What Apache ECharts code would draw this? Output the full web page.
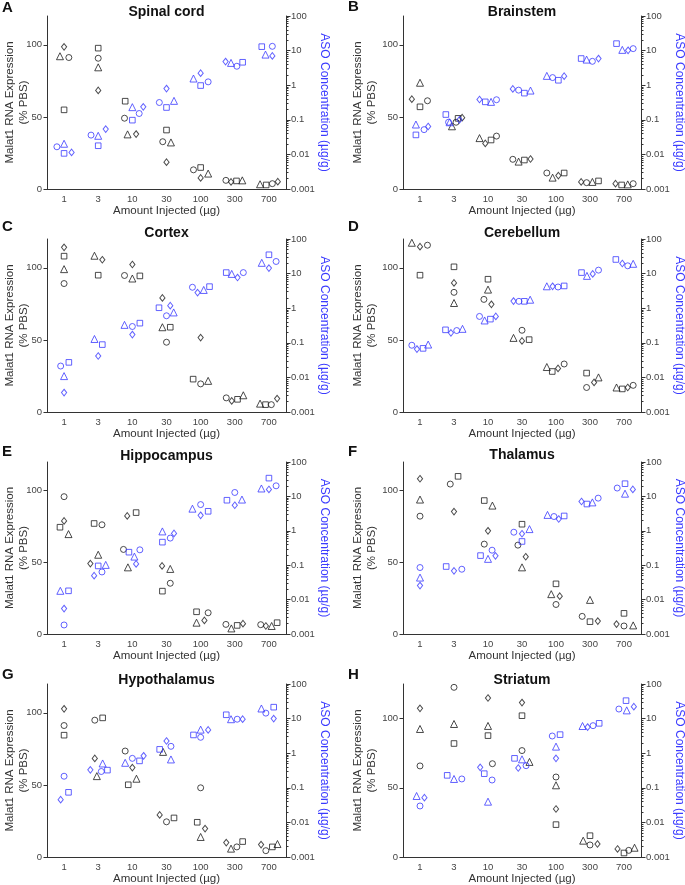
<!DOCTYPE html>
<html><head><meta charset="utf-8">
<script src="https://cdn.jsdelivr.net/npm/echarts@6/dist/echarts.min.js"></script>
<style>html,body{margin:0;padding:0;background:#fff}#c{width:685px;height:885px}</style>
</head><body><div id="c"></div>
<script>
// ---------- categories / labels ----------
const doses = ['1', '3', '10', '30', '100', '300', '700'];
const panelTitles = ['Spinal cord', 'Brainstem', 'Cortex', 'Cerebellum', 'Hippocampus', 'Thalamus', 'Hypothalamus', 'Striatum'];
const panelLetters = ['A', 'B', 'C', 'D', 'E', 'F', 'G', 'H'];
const exprMax = [120, 120, 120, 120, 120, 120, 120, 125];
const exprTicks = [0, 50, 100];
const asoTickLabels = ['0.001', '0.01', '0.1', '1', '10', '100'];

// ---------- A: Spinal cord ----------
// Malat1 expression (% PBS): O = circle, S = square, T = triangle, D = diamond
const scExpO = [91.2, 90.7, 49.1, 32.8, 13.3, 6.0, 3.7];
const scExpS = [54.9, 97.7, 60.9, 40.9, 14.9, 5.6, 2.8];
const scExpT = [92.1, 84.4, 37.9, 32.3, 10.7, 6.0, 3.3];
const scExpD = [98.6, 68.4, 38.1, 18.6, 7.7, 4.9, 5.1];
const scAsoO = [0.0166, 0.0361, 0.152, 0.316, 1.25, 3.53, 13.3];
const scAsoS = [0.0107, 0.0178, 0.0977, 0.227, 0.977, 4.6, 13.0];
const scAsoT = [0.0203, 0.0345, 0.232, 0.353, 1.56, 4.41, 7.67];
const scAsoD = [0.0114, 0.0538, 0.237, 0.80, 2.22, 4.82, 7.0];
// jitter (fraction of a category step)
const scExpOj = [0.14, 0, -0.23, -0.11, -0.21, -0.26, 0.1];
const scExpSj = [0, 0, -0.21, 0, 0, 0.05, -0.08];
const scExpTj = [-0.12, 0, -0.14, 0.13, 0.22, 0.22, -0.26];
const scExpDj = [0, 0, 0.11, 0, 0, -0.11, 0.26];
const scAsoOj = [-0.21, -0.21, 0.2, -0.21, 0.22, 0.06, 0.1];
const scAsoSj = [0, 0, 0, 0, 0, 0.23, -0.21];
const scAsoTj = [0, 0, 0, 0.22, -0.21, -0.11, -0.1];
const scAsoDj = [0.22, 0.22, 0.32, 0, 0, -0.27, 0.1];

// ---------- B: Brainstem ----------
const bsExpO = [61.2, 46.3, 36.7, 20.6, 11.1, 4.4, 3.7];
const bsExpS = [57, 49, 34, 20.1, 11.1, 5.6, 2.8];
const bsExpT = [73.7, 43.5, 35.3, 19, 7.9, 4.9, 3.2];
const bsExpD = [62.3, 49.5, 31.6, 20.8, 9.3, 4.9, 3.7];
const bsAsoO = [0.052, 0.085, 0.38, 0.72, 1.66, 4.9, 11.4];
const bsAsoS = [0.0366, 0.142, 0.33, 0.59, 1.39, 5.9, 15.9];
const bsAsoT = [0.073, 0.085, 0.33, 0.70, 1.86, 5.5, 10.5];
const bsAsoD = [0.064, 0.1, 0.386, 0.78, 1.82, 5.9, 10.2];
const bsExpOj = [0.22, 0.06, 0.25, -0.27, -0.27, -0.1, 0.27];
const bsExpSj = [0, 0.12, 0.09, 0.07, 0.24, 0.25, -0.07];
const bsExpTj = [0, -0.06, -0.25, -0.1, -0.1, 0.07, 0.11];
const bsExpDj = [-0.24, 0.24, -0.08, 0.25, 0.07, -0.26, -0.25];
const bsAsoOj = [0.12, -0.16, 0.25, -0.1, -0.1, 0.07, 0.27];
const bsAsoSj = [-0.12, -0.24, -0.08, 0.07, 0.07, -0.26, -0.22];
const bsAsoTj = [-0.12, -0.13, 0.09, 0.25, -0.27, -0.1, -0.05];
const bsAsoDj = [0.24, 0.16, -0.25, -0.27, 0.24, 0.25, 0.12];

// ---------- C: Cortex ----------
const cxExpO = [89.1, null, 94.7, 48.4, 19.5, 9.8, 5.1];
const cxExpS = [108.1, 94.9, 94.4, 58.8, 22.8, 8.8, 5.1];
const cxExpT = [99.1, 108.4, 92.6, 58.8, 21.6, 11.6, 5.8];
const cxExpD = [114.2, 105.6, 102.3, 79.1, 51.6, 7.7, 9.3];
const cxAsoO = [0.0213, null, 0.296, 0.604, 4.03, 10.7, 22.4];
const cxAsoS = [0.0272, 0.0887, 0.37, 1.03, 4.2, 10.7, 35];
const cxAsoT = [0.0109, 0.129, 0.33, 0.755, 3.37, 9.8, 20.5];
const cxAsoD = [0.00365, 0.0415, 0.173, 1.18, 2.82, 7.7, 14.4];
const cxExpOj = [0, 0, -0.23, 0, 0, -0.25, 0.07];
const cxExpSj = [0, 0, 0.22, 0.11, -0.22, 0.08, -0.1];
const cxExpTj = [0, -0.11, 0, -0.12, 0.22, 0.25, -0.26];
const cxExpDj = [0, 0.12, 0, -0.12, 0, -0.09, 0.24];
const cxAsoOj = [-0.1, 0, 0, 0, -0.24, 0.25, 0.21];
const cxAsoSj = [0.14, 0.12, 0.22, -0.22, 0.26, -0.25, 0];
const cxAsoTj = [0, -0.11, -0.23, 0.21, 0.09, -0.09, -0.21];
const cxAsoDj = [0, 0, 0, 0.11, -0.09, 0.08, 0];

// ---------- D: Cerebellum ----------
const cbExpO = [115.7, 83, 78.1, 56.7, 33.3, 17, 18.5];
const cbExpS = [94.9, 100.7, 92.1, 50.2, 28.1, 27, 16];
const cbExpT = [117.4, 75.6, 84.9, 51.4, 31.2, 24, 17];
const cbExpD = [114.7, 89.5, 74.7, 49.3, 30.2, 20.5, 17];
const cbAsoO = [0.085, 0.226, 0.578, 1.58, 4.1, 12.6, 16.8];
const cbAsoS = [0.069, 0.237, 0.483, 1.58, 4.4, 10.7, 25.6];
const cbAsoT = [0.089, 0.253, 0.442, 1.76, 4.3, 8.6, 19.2];
const cbAsoD = [0.066, 0.194, 0.578, 1.61, 4.3, 9.8, 19.6];
const cbExpOj = [0.22, 0, -0.12, 0, 0.24, -0.1, 0.27];
const cbExpSj = [0, 0, 0, 0.21, -0.11, -0.1, -0.05];
const cbExpTj = [-0.24, 0, 0, -0.25, -0.27, 0.25, -0.22];
const cbExpDj = [0, 0, 0.1, 0, 0.06, 0.12, 0.11];
const cbAsoOj = [-0.24, 0.08, -0.25, -0.09, 0.06, 0.25, 0.11];
const cbAsoSj = [0.09, -0.25, 0.07, 0.07, 0.24, -0.25, -0.24];
const cbAsoTj = [0.24, 0.25, -0.1, 0.24, -0.27, -0.09, 0.27];
const cbAsoDj = [-0.09, -0.09, 0.23, -0.25, -0.1, 0.08, -0.05];

// ---------- E: Hippocampus ----------
const hcExpO = [95.8, 76.2, 59, 35.4, 14.8, 6.7, 6.5];
const hcExpS = [74.5, 77.1, 84.7, 29.9, 15.5, 6, 7.9];
const hcExpT = [69.7, 55.3, 46.5, 45.4, 7.9, 3.9, 5.6];
const hcExpD = [78.9, 49.1, 82.4, 47.5, 9.5, 7.2, 5.6];
const hcAsoO = [0.00183, 0.0636, 0.28, 0.614, 5.78, 13, 20.3];
const hcAsoS = [0.018, 0.0953, 0.239, 0.468, 3.69, 7.74, 34];
const hcAsoT = [0.018, 0.102, 0.178, 0.96, 4.4, 8.1, 17];
const hcAsoD = [0.0055, 0.0497, 0.109, 0.84, 2.82, 5.53, 15.9];
const hcExpOj = [0, 0.11, -0.26, 0.11, 0.22, -0.26, -0.24];
const hcExpSj = [-0.12, -0.12, 0.11, -0.12, -0.12, 0.07, 0.24];
const hcExpTj = [0.13, 0, -0.13, 0.11, -0.12, -0.1, 0.08];
const hcExpDj = [0, -0.23, -0.15, -0.13, 0.11, 0.24, -0.09];
const hcAsoOj = [0, 0.11, 0.22, 0.11, 0, 0, 0.21];
const hcAsoSj = [0.13, 0, -0.1, -0.12, 0.22, -0.23, 0];
const hcAsoTj = [-0.11, 0.22, 0.06, -0.12, -0.24, 0.21, -0.22];
const hcAsoDj = [0, -0.12, 0.11, 0.22, 0, 0, 0];

// ---------- F: Thalamus ----------
const thExpO = [82.2, 104.6, 62.7, 62, 20.6, 12.3, 5.6];
const thExpS = [null, 110, 93.1, 76.6, 35, 8.6, 14.4];
const thExpT = [93.8, null, 89.6, 46.5, 27.8, 23.8, 6];
const thExpD = [108.3, 85.4, 72, 53.9, 26.4, 9, 6.9];
const thAsoO = [0.0855, 0.0764, 0.273, 0.91, 2.6, 8.9, 17.5];
const thAsoS = [null, 0.0915, 0.19, 0.49, 2.7, 6.0, 23.4];
const thAsoT = [0.0437, null, 0.153, 1.12, 2.9, 6.7, 12];
const thAsoD = [0.0256, 0.0684, 0.187, 0.82, 2.2, 7.1, 16];
const thExpOj = [0, -0.11, -0.11, -0.12, 0, -0.23, 0];
const thExpSj = [0, 0.12, -0.11, 0, 0, 0, 0];
const thExpTj = [0, 0, 0.13, 0, -0.14, 0, 0.27];
const thExpDj = [0, 0, 0, 0.11, 0.11, 0.23, -0.22];
const thAsoOj = [0, 0.23, 0.12, -0.24, -0.06, 0.24, -0.2];
const thAsoSj = [0, -0.23, -0.22, 0, 0.24, -0.09, 0.03];
const thAsoTj = [0, 0, 0, 0.22, -0.25, 0.07, 0.03];
const thAsoDj = [0, 0, 0.22, 0, 0.08, -0.25, 0.26];

// ---------- G: Hypothalamus ----------
const hyExpO = [91.2, 94.9, 73.5, 24.4, 48, 7, 4.4];
const hyExpS = [84.5, 96.5, 50.1, 27.1, 24.1, 10.7, 7];
const hyExpT = [null, 56.1, 54.3, 72.9, 13.9, 5.8, 9];
const hyExpD = [102.8, 68.4, 62, 29.2, 19.7, 10, 8.6];
const hyAsoO = [0.216, 0.296, 0.71, 1.58, 2.88, 9.6, 14.4];
const hyAsoS = [0.074, 0.324, 0.6, 1.29, 3.37, 12.9, 21.4];
const hyAsoT = [null, 0.505, 0.528, 0.66, 4.8, 9.6, 19.6];
const hyAsoD = [0.0454, 0.33, 0.84, 2.25, 4.7, 9.6, 10];
const hyExpOj = [0, -0.1, -0.21, 0, 0, 0.06, -0.09];
const hyExpSj = [0, 0.13, -0.12, 0.22, -0.1, 0.23, 0.1];
const hyExpTj = [0, -0.04, 0.12, -0.1, 0, -0.11, 0.25];
const hyExpDj = [0, -0.1, 0, -0.2, 0.13, -0.25, -0.23];
const hyAsoOj = [0, 0.09, 0, 0.13, 0, 0.07, -0.09];
const hyAsoSj = [0.13, 0.27, 0.21, -0.2, -0.21, -0.25, 0.14];
const hyAsoTj = [0, 0.13, -0.21, 0.13, 0, -0.11, -0.22];
const hyAsoDj = [-0.1, -0.23, 0.33, 0, 0.22, 0.23, 0.14];

// ---------- H: Striatum ----------
const stExpO = [65.8, 122.6, 67.4, 76.9, 57.8, 8.7, 4.8];
const stExpS = [null, 82, 87.7, 102.1, 23.4, 15.4, 2.9];
const stExpT = [92.5, 96.1, 94.7, 68.7, 51.8, 11.8, 6.7];
const stExpD = [107.4, null, 114.9, 111.6, 34.7, 9.4, 5.8];
const stAsoO = [0.0298, 0.18, 0.168, 0.436, 3.14, 6.25, 18.9];
const stAsoS = [null, 0.229, 0.256, 0.71, 3.44, 7.3, 33];
const stAsoT = [0.058, 0.18, 0.0397, 0.665, 1.55, 6.1, 17.3];
const stAsoD = [0.052, null, 0.39, 0.373, 0.71, 5.7, 22.1];
const stExpOj = [0, 0, 0.13, 0, 0, 0, 0.14];
const stExpSj = [0, 0, 0, 0, 0, 0, 0];
const stExpTj = [0, 0, 0, 0.22, 0, -0.2, 0.31];
const stExpDj = [0, 0, 0, 0, 0, 0.22, -0.19];
const stAsoOj = [0, 0.23, 0.12, 0.12, -0.11, 0.09, -0.15];
const stAsoSj = [0, -0.2, -0.11, -0.22, 0.12, 0.27, 0.06];
const stAsoTj = [-0.1, 0, 0, 0, 0, -0.22, 0.08];
const stAsoDj = [0.13, 0, -0.23, -0.11, 0, -0.07, 0.29];

// ---------- assembly ----------
const panels = [
  [[scExpO, scExpS, scExpT, scExpD], [scExpOj, scExpSj, scExpTj, scExpDj], [scAsoO, scAsoS, scAsoT, scAsoD], [scAsoOj, scAsoSj, scAsoTj, scAsoDj]],
  [[bsExpO, bsExpS, bsExpT, bsExpD], [bsExpOj, bsExpSj, bsExpTj, bsExpDj], [bsAsoO, bsAsoS, bsAsoT, bsAsoD], [bsAsoOj, bsAsoSj, bsAsoTj, bsAsoDj]],
  [[cxExpO, cxExpS, cxExpT, cxExpD], [cxExpOj, cxExpSj, cxExpTj, cxExpDj], [cxAsoO, cxAsoS, cxAsoT, cxAsoD], [cxAsoOj, cxAsoSj, cxAsoTj, cxAsoDj]],
  [[cbExpO, cbExpS, cbExpT, cbExpD], [cbExpOj, cbExpSj, cbExpTj, cbExpDj], [cbAsoO, cbAsoS, cbAsoT, cbAsoD], [cbAsoOj, cbAsoSj, cbAsoTj, cbAsoDj]],
  [[hcExpO, hcExpS, hcExpT, hcExpD], [hcExpOj, hcExpSj, hcExpTj, hcExpDj], [hcAsoO, hcAsoS, hcAsoT, hcAsoD], [hcAsoOj, hcAsoSj, hcAsoTj, hcAsoDj]],
  [[thExpO, thExpS, thExpT, thExpD], [thExpOj, thExpSj, thExpTj, thExpDj], [thAsoO, thAsoS, thAsoT, thAsoD], [thAsoOj, thAsoSj, thAsoTj, thAsoDj]],
  [[hyExpO, hyExpS, hyExpT, hyExpD], [hyExpOj, hyExpSj, hyExpTj, hyExpDj], [hyAsoO, hyAsoS, hyAsoT, hyAsoD], [hyAsoOj, hyAsoSj, hyAsoTj, hyAsoDj]],
  [[stExpO, stExpS, stExpT, stExpD], [stExpOj, stExpSj, stExpTj, stExpDj], [stAsoO, stAsoS, stAsoT, stAsoD], [stAsoOj, stAsoSj, stAsoTj, stAsoDj]]
];

const FONT = '"Liberation Sans", Arial, Helvetica, sans-serif';
const BLACK = '#1e1e1e';
const BLUE = '#3b3bff';
const AXIS = '#333333';
const LABEL = '#444444';
const shapes = ['circle', 'rect', 'triangle', 'diamond'];
const shapeSizes = [6, 5.6, 7, [5.2, 6.6]];
// grid boxes [left, top, width, height]
const boxes = [
  [47, 16, 239, 173], [403, 16, 238, 173],
  [47, 239, 239, 173], [403, 239, 238, 173],
  [47, 462, 239, 172], [403, 462, 238, 172],
  [47, 684, 239, 173], [403, 684, 238, 173]
];
const letterY = [8, 7, 227, 227, 452, 452, 675, 675];
const titleY = [11.7, 11.7, 233, 233.3, 455.7, 455.3, 680, 680];

const minorExps = [];
for (let d = -3; d < 2; d++) {
  for (let k = 2; k <= 9; k++) minorExps.push(d + Math.log10(k));
}

const grid = [], xAxis = [], yAxis = [], series = [], graphic = [];
boxes.forEach((b, p) => {
  const rightCol = p % 2 === 1;
  grid.push({ left: b[0], top: b[1], width: b[2], height: b[3], containLabel: false, outerBoundsMode: 'none' });
  xAxis.push({
    gridIndex: p, type: 'category', data: doses, boundaryGap: true, position: 'bottom',
    axisLine: { onZero: false, lineStyle: { color: AXIS, width: 1 } },
    axisTick: { alignWithLabel: true, length: 3.5, lineStyle: { color: AXIS } },
    axisLabel: { color: LABEL, fontSize: 9.5, margin: 5, fontFamily: FONT },
    splitLine: { show: false },
    name: 'Amount Injected (µg)', nameLocation: 'middle', nameGap: 14,
    nameTextStyle: { fontSize: 11.5, color: '#333', fontFamily: FONT }
  });
  xAxis.push({ gridIndex: p, type: 'value', min: -0.5, max: 6.5, show: false });
  yAxis.push({
    gridIndex: p, type: 'value', min: 0, max: exprMax[p], interval: 50, position: 'left',
    axisLine: { show: true, onZero: false, lineStyle: { color: AXIS, width: 1 } },
    axisTick: { show: true, length: 3.5, lineStyle: { color: AXIS }, customValues: exprTicks },
    axisLabel: { color: LABEL, fontSize: 9.5, margin: 5, fontFamily: FONT, customValues: exprTicks },
    splitLine: { show: false },
    name: 'Malat1 RNA Expression\n(% PBS)', nameLocation: 'middle', nameRotate: 90,
    nameMoveOverlap: false,
    nameGap: rightCol ? 24.5 : 16.5,
    nameTextStyle: { fontSize: 11.5, color: '#333', lineHeight: 13.5, fontFamily: FONT, align: 'center' }
  });
  yAxis.push({
    gridIndex: p, type: 'log', logBase: 10, min: 0.001, max: 100, position: 'right',
    axisLine: { show: true, onZero: false, lineStyle: { color: AXIS, width: 1 } },
    axisTick: { show: true, length: 4.5, lineStyle: { color: AXIS } },
    axisLabel: {
      color: LABEL, fontSize: 9.5, margin: 5, fontFamily: FONT,
      formatter: v => asoTickLabels[Math.round(Math.log10(v)) + 3]
    },
    splitLine: { show: false },
    name: 'ASO Concentration (µg/g)', nameLocation: 'middle', nameRotate: -90, nameGap: 30,
    nameTextStyle: { fontSize: 12, color: BLUE, fontFamily: FONT }
  });
  yAxis.push({
    gridIndex: p, type: 'value', min: -3, max: 2, position: 'right',
    axisLine: { show: false, onZero: false }, axisLabel: { show: false }, splitLine: { show: false },
    axisTick: { show: true, length: 2.5, lineStyle: { color: AXIS }, customValues: minorExps }
  });

  const pd = panels[p];
  [0, 1].forEach(m => {
    const vals = pd[m * 2], jit = pd[m * 2 + 1];
    shapes.forEach((shp, s) => {
      const data = [];
      vals[s].forEach((v, i) => { if (v != null) data.push([i + jit[s][i], v]); });
      series.push({
        type: 'scatter', xAxisIndex: 2 * p + 1, yAxisIndex: 3 * p + m,
        symbol: shp, symbolSize: shapeSizes[s], data: data, silent: true,
        itemStyle: { color: 'rgba(0,0,0,0)', borderColor: m === 0 ? BLACK : BLUE, borderWidth: 1 },
        emphasis: { disabled: true }
      });
    });
  });

  graphic.push({
    type: 'text', x: rightCol ? 348 : 2, y: letterY[p],
    style: { text: panelLetters[p], font: 'bold 15px ' + FONT, fill: '#111', textVerticalAlign: 'middle' }
  });
  graphic.push({
    type: 'text', x: b[0] + b[2] / 2, y: titleY[p],
    style: { text: panelTitles[p], font: 'bold 14px ' + FONT, fill: '#111', textAlign: 'center', textVerticalAlign: 'middle' }
  });
});

const chart = echarts.init(document.getElementById('c'), null, { renderer: 'canvas' });
chart.setOption({
  animation: false,
  backgroundColor: '#fff',
  grid, xAxis, yAxis, series, graphic
});
</script>
</body></html>
